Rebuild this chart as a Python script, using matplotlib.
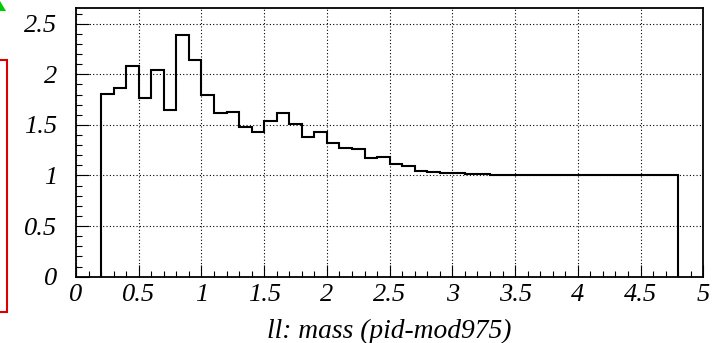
import numpy as np
import matplotlib
matplotlib.use("Agg")
import matplotlib.pyplot as plt
from matplotlib.patches import Rectangle, Polygon
from matplotlib.ticker import MultipleLocator, FixedLocator

# ---- data ----
bin_start = 0.2
bin_width = 0.1
counts = [1.804, 1.863, 2.077, 1.765, 2.038, 1.652, 2.391, 2.143, 1.800, 1.619,
          1.626, 1.478, 1.431, 1.537, 1.619, 1.513, 1.382, 1.428, 1.326, 1.276,
          1.263, 1.174, 1.184, 1.118, 1.095, 1.045, 1.039, 1.026, 1.022, 1.016,
          1.012, 1.000, 1.000, 1.000, 1.000, 1.000, 1.000, 1.000, 1.000, 1.000,
          1.000, 1.000, 1.000, 1.000, 1.000, 1.000]
x_ticks = [0, 0.5, 1, 1.5, 2, 2.5, 3, 3.5, 4, 4.5, 5]
x_tick_labels = ["0", "0.5", "1", "1.5", "2", "2.5", "3", "3.5", "4", "4.5", "5"]
y_ticks = [0, 0.5, 1, 1.5, 2, 2.5]
y_tick_labels = ["0", "0.5", "1", "1.5", "2", "2.5"]
x_title = "ll: mass (pid-mod975)"

edges = np.round(bin_start + bin_width * np.arange(len(counts) + 1), 3)

W, H = 717, 343
fig = plt.figure(figsize=(W / 100, H / 100), dpi=100)
fig.patch.set_facecolor("white")

L, R, B, T = 76, 703.3, 276.7, 8
ax = fig.add_axes([L / W, 1 - B / H, (R - L) / W, (B - T) / H])

font = dict(family="Liberation Serif", style="italic")

ax.stairs(counts, edges, baseline=0, color="black", lw=1.5, zorder=3)

ax.set_xlim(0, 5)
ax.set_ylim(0, 2.655)

ax.xaxis.set_major_locator(FixedLocator(x_ticks))
ax.yaxis.set_major_locator(FixedLocator(y_ticks))
ax.xaxis.set_minor_locator(MultipleLocator(0.1))
ax.yaxis.set_minor_locator(MultipleLocator(0.1))
ax.set_xticklabels(x_tick_labels, fontsize=19, **font)
ax.set_yticklabels(y_tick_labels, fontsize=19, **font)

ax.tick_params(which="major", direction="in", length=9, width=0.8,
               top=False, right=False)
ax.tick_params(axis="x", which="major", pad=5.5)
ax.tick_params(axis="y", which="major", pad=13.5)
ax.tick_params(which="minor", direction="in", length=4.5, width=0.8,
               top=False, right=False)

ax.grid(True, which="major", color="black", linestyle=(0, (1, 2)), linewidth=0.8, zorder=1)
ax.set_axisbelow(True)

for s in ax.spines.values():
    s.set_linewidth(1.3)

fig.text(389.5 / W, 1 - 338 / H, x_title, ha="center", va="baseline",
         fontsize=19.8, **font)

# partial pave (red box) and green marker at canvas left edge
fig.patches.append(Rectangle((-10 / W, 1 - 312 / H), 17 / W, 252 / H,
                             transform=fig.transFigure, fill=False,
                             edgecolor="#dd0000", lw=1.5))
fig.patches.append(Polygon([(0, 1 - 1 / H), (6 / W, 1 - 11 / H), (0, 1 - 11 / H)],
                           closed=True, transform=fig.transFigure,
                           facecolor="#00cc00", edgecolor="none"))

fig.savefig("out.png", dpi=100, facecolor="white")
